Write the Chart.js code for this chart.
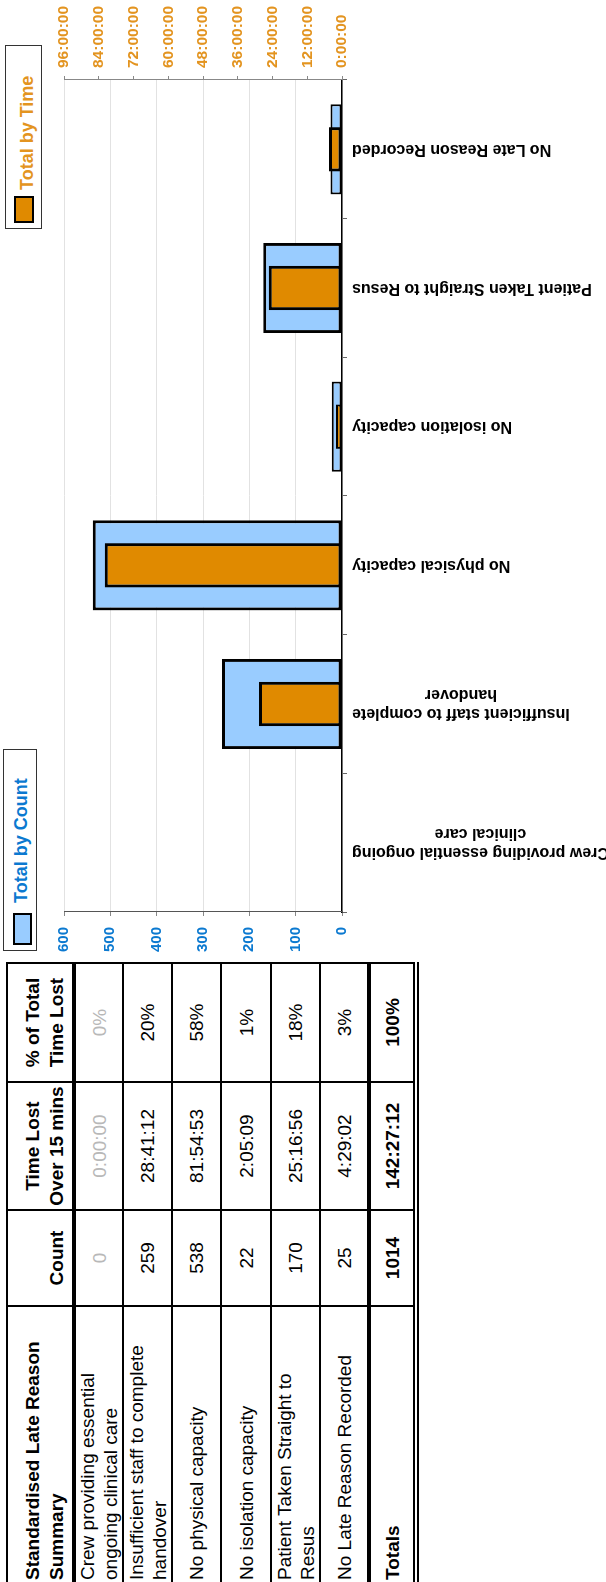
<!DOCTYPE html>
<html>
<head>
<meta charset="utf-8">
<title>Standardised Late Reason Summary</title>
<script src="https://cdn.jsdelivr.net/npm/chart.js@4.4.1/dist/chart.umd.min.js"></script>
<style>
  html, body { margin: 0; padding: 0; background: #fff; overflow: hidden; width: 606px; height: 1582px; }
  /* the report sheet is laid out in landscape and turned onto the portrait page */
  #sheet {
    position: absolute; left: 0; top: 0; width: 1582px; height: 606px;
    transform-origin: 0 0; transform: translate(0, 1582px) rotate(-90deg);
    background: #fff; font-family: "Liberation Sans", Arial, sans-serif; color: #000;
  }
  #summary {
    position: absolute; left: -2px; top: 6px; width: 620px;
    border-collapse: collapse; table-layout: fixed; font-size: 19px;
  }
  #summary td, #summary th {
    border: 2px solid #000; padding: 0 2px; white-space: nowrap; overflow: hidden;
    line-height: 23px; font-weight: normal; text-align: center; vertical-align: middle;
  }
  #summary th { font-weight: bold; vertical-align: bottom; line-height: 24px; padding-bottom: 3px; }
  #summary .reason { text-align: left; }
  #summary tr.head th { border-bottom: 4px solid #000; }
  #summary tr.total td { border-top: 4px solid #000; border-bottom: 6px double #000; font-weight: bold; }
  #summary td.muted { color: #b8b8b8; }
  .leg { position: absolute; border: 1.5px solid #333; box-sizing: border-box; background: #fff; }
  .leg .sw { position: absolute; box-sizing: border-box; border: 2.5px solid #000; }
  .leg .lt { position: absolute; font-weight: bold; font-size: 18px; line-height: 20px; white-space: nowrap; }
  #chartBox { position: absolute; left: 600px; top: 0; width: 982px; height: 606px; }
</style>
</head>
<body>
<div id="sheet">
  <table id="summary">
    <colgroup><col style="width:277px"><col style="width:96px"><col style="width:128px"><col style="width:119px"></colgroup>
    <tbody id="summaryBody"></tbody>
  </table>

  <div class="leg" style="left:631px; top:3px; width:202px; height:34px;">
    <span class="sw" style="left:5px; top:9px; width:32px; height:19px; background:#99CCFF;"></span>
    <span class="lt" style="left:47px; top:7px; color:#0B79D0;">Total by Count</span>
  </div>
  <div class="leg" style="left:1353px; top:5px; width:184px; height:37px;">
    <span class="sw" style="left:5px; top:8px; width:27px; height:20px; background:#E08A00;"></span>
    <span class="lt" style="left:38px; top:11px; color:#E39420;">Total by Time</span>
  </div>

  <div id="chartBox"><canvas id="chart" width="982" height="606"></canvas></div>
</div>

<script>
// Late reasons, in report order
const reasonRows = [
  ["Crew providing essential", "ongoing clinical care"],
  ["Insufficient staff to complete", "handover"],
  ["No physical capacity"],
  ["No isolation capacity"],
  ["Patient Taken Straight to", "Resus"],
  ["No Late Reason Recorded"]
];
// the same reasons as wrapped under the chart's category axis
const chartCategories = [
  ["Crew providing essential ongoing", "clinical care"],
  ["Insufficient staff to complete", "handover"],
  ["No physical capacity"],
  ["No isolation capacity"],
  ["Patient Taken Straight to Resus"],
  ["No Late Reason Recorded"]
];
const lateCounts = [0, 259, 538, 22, 170, 25];
const timeLost = ["0:00:00", "28:41:12", "81:54:53", "2:05:09", "25:16:56", "4:29:02"];
const pctOfTotal = ["0%", "20%", "58%", "1%", "18%", "3%"];
const totalCount = 1014;
const totalTime = "142:27:12";
const totalPct = "100%";

const countTicks = [0, 100, 200, 300, 400, 500, 600];
const timeTicksHours = [0, 12, 24, 36, 48, 60, 72, 84, 96];

const COUNT_BLUE = "#99CCFF";
const TIME_ORANGE = "#E08A00";
const FONT = '"Liberation Sans", Arial, sans-serif';

function toHours(hms) {
  const [h, m, s] = hms.split(":").map(Number);
  return h + m / 60 + s / 3600;
}
const timeLostHours = timeLost.map(toHours);

// ---- summary table ----
const body = document.getElementById("summaryBody");
const rowHeights = { head: 67, row: 49, total: 47 };
function addRow(cells, cls, h, tag) {
  const tr = document.createElement("tr");
  if (cls) tr.className = cls;
  tr.style.height = h + "px";
  cells.forEach(c => {
    const td = document.createElement(tag || "td");
    td.innerHTML = c.html;
    if (c.cls) td.className = c.cls;
    tr.appendChild(td);
  });
  body.appendChild(tr);
}
addRow([
  { html: "Standardised Late Reason<br>Summary", cls: "reason" },
  { html: "Count" },
  { html: "Time Lost<br>Over 15 mins" },
  { html: "% of Total<br>Time Lost" }
], "head", rowHeights.head, "th");
reasonRows.forEach((lines, i) => {
  const muted = lateCounts[i] === 0 ? "muted" : "";
  addRow([
    { html: lines.join("<br>"), cls: "reason" },
    { html: String(lateCounts[i]), cls: muted },
    { html: timeLost[i], cls: muted },
    { html: pctOfTotal[i], cls: muted }
  ], "", i === 3 ? 50 : rowHeights.row);
});
addRow([
  { html: "Totals", cls: "reason" },
  { html: String(totalCount) },
  { html: totalTime },
  { html: totalPct }
], "total", rowHeights.total);

// ---- chart ----
const categoryLabels = {
  id: "categoryLabels",
  afterDraw(chart) {
    const xs = chart.scales.x;
    const ctx = chart.ctx;
    ctx.save();
    ctx.font = "bold 16px " + FONT;
    ctx.fillStyle = "#000";
    ctx.textAlign = "center";
    ctx.textBaseline = "middle";
    chartCategories.forEach((lines, i) => {
      const x = xs.getPixelForValue(i);
      const w = Math.max(...lines.map(l => ctx.measureText(l).width));
      ctx.save();
      ctx.translate(x, xs.top + 10 + w / 2);
      ctx.rotate(-Math.PI / 2);
      lines.forEach((l, j) => ctx.fillText(l, 0, (j - (lines.length - 1) / 2) * 19));
      ctx.restore();
    });
    ctx.restore();
  }
};

// thinner outline on very short bars so their fill still shows
function outlineWidth(c) {
  const scale = c.chart.scales[c.dataset.yAxisID];
  if (!scale || c.raw == null) return 3;
  const len = Math.abs(scale.getPixelForValue(0) - scale.getPixelForValue(c.raw));
  return len < 12 ? 2 : 3;
}

new Chart(document.getElementById("chart"), {
  type: "bar",
  data: {
    labels: chartCategories.map(l => l.join(" ")),
    datasets: [
      {
        label: "Total by Time",
        data: timeLostHours,
        yAxisID: "y1",
        backgroundColor: TIME_ORANGE,
        borderColor: "#000",
        borderWidth: outlineWidth,
        borderSkipped: false,
        grouped: false,
        categoryPercentage: 1,
        barPercentage: 0.32
      },
      {
        label: "Total by Count",
        data: lateCounts,
        yAxisID: "y",
        backgroundColor: COUNT_BLUE,
        borderColor: "#000",
        borderWidth: outlineWidth,
        borderSkipped: false,
        grouped: false,
        categoryPercentage: 1,
        barPercentage: 0.65
      }
    ]
  },
  options: {
    responsive: false,
    animation: false,
    devicePixelRatio: 1,
    layout: { padding: { top: 64, left: 0, right: 0, bottom: 0 } },
    plugins: { legend: { display: false }, tooltip: { enabled: false } },
    scales: {
      x: {
        type: "category",
        offset: true,
        ticks: { display: false },
        grid: { offset: true, drawOnChartArea: false, drawTicks: true, tickLength: 5, color: "#666" },
        border: { color: "#000", width: 1.5 },
        afterFit(s) { s.height = 264; }
      },
      y: {
        position: "left",
        min: countTicks[0],
        max: countTicks[countTicks.length - 1],
        afterBuildTicks(s) { s.ticks = countTicks.map(v => ({ value: v })); },
        ticks: { color: "#0B79D0", font: { family: FONT, size: 15, weight: "bold" }, padding: 11 },
        grid: { color: "#e2e2e2", tickColor: "#888", tickLength: 4 },
        border: { color: "#555", width: 1 },
        afterFit(s) { s.width = 70; }
      },
      y1: {
        position: "right",
        min: timeTicksHours[0],
        max: timeTicksHours[timeTicksHours.length - 1],
        afterBuildTicks(s) { s.ticks = timeTicksHours.map(v => ({ value: v })); },
        ticks: {
          color: "#E39420",
          font: { family: FONT, size: 15.5, weight: "bold" },
          padding: 8,
          callback: v => v + ":00:00"
        },
        grid: { drawOnChartArea: false, color: "#888", tickLength: 4 },
        border: { color: "#888", width: 1 },
        afterFit(s) { s.width = 80; }
      }
    }
  },
  plugins: [categoryLabels]
});
</script>
</body>
</html>
